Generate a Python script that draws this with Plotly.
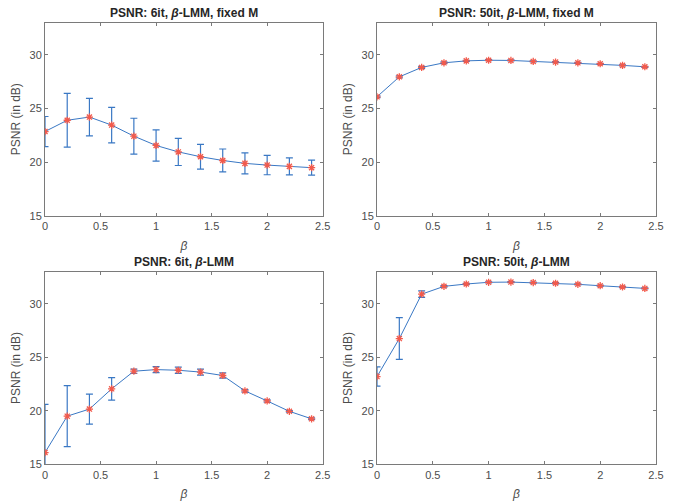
import plotly.graph_objects as go

beta = [0, 0.2, 0.4, 0.6, 0.8, 1.0, 1.2, 1.4, 1.6, 1.8, 2.0, 2.2, 2.4]

psnr_6it_fixed = [22.85, 23.9, 24.2, 23.45, 22.42, 21.55, 20.95, 20.5, 20.15, 19.88, 19.72, 19.6, 19.48]
err_6it_fixed = [1.4, 2.5, 1.75, 1.65, 1.67, 1.46, 1.27, 1.16, 1.07, 0.98, 0.9, 0.8, 0.7]

psnr_50it_fixed = [26.09, 27.95, 28.83, 29.26, 29.44, 29.5, 29.48, 29.39, 29.33, 29.26, 29.17, 29.02, 28.89]
err_50it_fixed = [0.08, 0.1, 0.1, 0.08, 0.06, 0.05, 0.05, 0.05, 0.05, 0.05, 0.05, 0.05, 0.05]

psnr_6it = [16.1, 19.5, 20.16, 22.05, 23.7, 23.85, 23.79, 23.62, 23.3, 21.86, 20.92, 19.95, 19.25]
err_6it = [4.5, 2.85, 1.4, 1.05, 0.2, 0.28, 0.3, 0.28, 0.25, 0.12, 0.1, 0.08, 0.08]

psnr_50it = [23.2, 26.75, 30.9, 31.63, 31.85, 32.01, 32.03, 31.98, 31.92, 31.82, 31.69, 31.57, 31.44]
err_50it = [0.9, 1.95, 0.3, 0.08, 0.06, 0.05, 0.05, 0.05, 0.05, 0.05, 0.05, 0.05, 0.05]

titles = [
    "<b>PSNR: 6it, <i>β</i>-LMM, fixed M</b>",
    "<b>PSNR: 50it, <i>β</i>-LMM, fixed M</b>",
    "<b>PSNR: 6it, <i>β</i>-LMM</b>",
    "<b>PSNR: 50it, <i>β</i>-LMM</b>",
]
series = [
    (psnr_6it_fixed, err_6it_fixed),
    (psnr_50it_fixed, err_50it_fixed),
    (psnr_6it, err_6it),
    (psnr_50it, err_50it),
]

W, H = 682, 502
def xd(a, b):
    return [a / W, b / W]
def yd(top, bot):
    return [1 - bot / H, 1 - top / H]

xdoms = [xd(45, 322.7), xd(377, 656), xd(45, 322.7), xd(377, 656)]
ydoms = [yd(22.7, 215.7), yd(22.7, 215.7), yd(271.7, 464.3), yd(271.7, 464.3)]

LINE = "#3a78c4"
MARK = "#f25a4c"
AX = "#7a7a7a"
TXT = "#4d4d4d"
FONT = "Liberation Sans, Arial, sans-serif"

fig = go.Figure()
annotations = []
layout = {}
for i, ((y, e), t) in enumerate(zip(series, titles)):
    n = "" if i == 0 else str(i + 1)
    fig.add_trace(go.Scatter(
        x=beta, y=y, xaxis="x" + n, yaxis="y" + n,
        mode="lines+markers",
        line=dict(color=LINE, width=1),
        marker=dict(symbol="asterisk-open", size=6, color=MARK,
                    line=dict(color=MARK, width=1.3)),
        error_y=dict(type="data", array=e, visible=True, color=LINE,
                     thickness=1.2, width=3.5),
        showlegend=False,
    ))
    common = dict(showline=True, linecolor=AX, linewidth=1, mirror="ticks",
                  ticks="inside", ticklen=3, tickcolor=AX, showgrid=False,
                  zeroline=False, automargin=False,
                  tickfont=dict(family=FONT, size=11, color=TXT))
    layout["xaxis" + n] = dict(domain=xdoms[i], range=[0, 2.5], dtick=0.5,
                               anchor="y" + n, **common,
                               title=dict(text="<i>β</i>", standoff=10,
                                          font=dict(family=FONT, size=12, color=TXT)))
    layout["yaxis" + n] = dict(domain=ydoms[i], range=[15, 33],
                               tickvals=[15, 20, 25, 30], anchor="x" + n, **common,
                               title=dict(text="PSNR (in dB)", standoff=6,
                                          font=dict(family=FONT, size=12, color=TXT)))
    annotations.append(dict(
        text=t, xref="paper", yref="paper",
        x=(xdoms[i][0] + xdoms[i][1]) / 2, y=ydoms[i][1],
        xanchor="center", yanchor="bottom", yshift=1, showarrow=False,
        font=dict(family=FONT, size=12, color="#262626")))

fig.update_layout(
    width=W, height=H,
    margin=dict(l=0, r=0, t=0, b=0),
    paper_bgcolor="white", plot_bgcolor="white",
    annotations=annotations,
    **layout,
)
fig.write_html("out.html", config={"displayModeBar": False},
               post_script="document.body.style.margin='0';")
